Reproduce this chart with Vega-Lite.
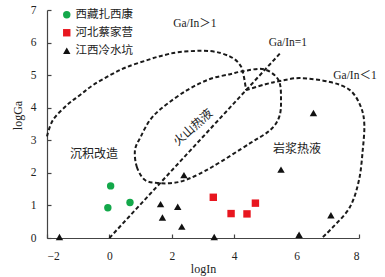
{
  "$schema": "https://vega.github.io/schema/vega-lite/v6.json",
  "autosize": {"type": "none"},
  "width": 312,
  "height": 228,
  "padding": {"left": 47, "top": 10, "right": 26, "bottom": 39},
  "background": "white",
  "config": {
    "view": {"stroke": null},
    "axis": {
      "grid": false,
      "domainColor": "#444",
      "domainWidth": 1.2,
      "tickColor": "#444",
      "tickWidth": 1.2,
      "tickSize": -4,
      "labelFont": "Liberation Serif",
      "labelFontSize": 11.5,
      "labelColor": "#222",
      "titleFont": "Liberation Serif",
      "titleFontSize": 12,
      "titleFontWeight": "normal",
      "titleColor": "#222"
    }
  },
  "datasets": {
    "points": [
      {"site": "西藏扎西康", "logIn": 0.04, "logGa": 1.6},
      {"site": "西藏扎西康", "logIn": -0.05, "logGa": 0.93},
      {"site": "西藏扎西康", "logIn": 0.66, "logGa": 1.09},
      {"site": "河北蔡家营", "logIn": 3.33, "logGa": 1.25},
      {"site": "河北蔡家营", "logIn": 3.9, "logGa": 0.75},
      {"site": "河北蔡家营", "logIn": 4.41, "logGa": 0.74},
      {"site": "河北蔡家营", "logIn": 4.68, "logGa": 1.07},
      {"site": "江西冷水坑", "logIn": -1.6, "logGa": 0.03},
      {"site": "江西冷水坑", "logIn": 1.64, "logGa": 1.04},
      {"site": "江西冷水坑", "logIn": 1.7, "logGa": 0.63},
      {"site": "江西冷水坑", "logIn": 2.19, "logGa": 0.96},
      {"site": "江西冷水坑", "logIn": 2.32, "logGa": 0.35},
      {"site": "江西冷水坑", "logIn": 2.39, "logGa": 1.93},
      {"site": "江西冷水坑", "logIn": 3.36, "logGa": 0.03},
      {"site": "江西冷水坑", "logIn": 5.5, "logGa": 2.1},
      {"site": "江西冷水坑", "logIn": 7.1, "logGa": 0.7},
      {"site": "江西冷水坑", "logIn": 6.08, "logGa": 0.1},
      {"site": "江西冷水坑", "logIn": 6.54, "logGa": 3.84}
    ],
    "curves": [
      {"curve": "A", "i": 1, "logIn": -2.0, "logGa": 3.12},
      {"curve": "A", "i": 2, "logIn": -1.81, "logGa": 3.62},
      {"curve": "A", "i": 3, "logIn": -1.36, "logGa": 4.08},
      {"curve": "A", "i": 4, "logIn": -0.94, "logGa": 4.39},
      {"curve": "A", "i": 5, "logIn": -0.53, "logGa": 4.69},
      {"curve": "A", "i": 6, "logIn": 0.02, "logGa": 5.0},
      {"curve": "A", "i": 7, "logIn": 0.56, "logGa": 5.25},
      {"curve": "A", "i": 8, "logIn": 1.21, "logGa": 5.46},
      {"curve": "A", "i": 9, "logIn": 1.62, "logGa": 5.58},
      {"curve": "A", "i": 10, "logIn": 2.26, "logGa": 5.71},
      {"curve": "A", "i": 11, "logIn": 3.22, "logGa": 5.74},
      {"curve": "A", "i": 12, "logIn": 3.87, "logGa": 5.57},
      {"curve": "A", "i": 13, "logIn": 4.19, "logGa": 5.31},
      {"curve": "A", "i": 14, "logIn": 4.3, "logGa": 5.0},
      {"curve": "A", "i": 15, "logIn": 4.38, "logGa": 4.54},
      {"curve": "B", "i": 1, "logIn": 0.0, "logGa": 0.0},
      {"curve": "B", "i": 2, "logIn": 5.5, "logGa": 5.7},
      {"curve": "C", "i": 1, "logIn": 4.38, "logGa": 4.54},
      {"curve": "C", "i": 2, "logIn": 5.0, "logGa": 4.72},
      {"curve": "C", "i": 3, "logIn": 5.47, "logGa": 4.82},
      {"curve": "C", "i": 4, "logIn": 6.11, "logGa": 4.91},
      {"curve": "C", "i": 5, "logIn": 7.07, "logGa": 4.79},
      {"curve": "C", "i": 6, "logIn": 7.71, "logGa": 4.54},
      {"curve": "C", "i": 7, "logIn": 8.05, "logGa": 4.05},
      {"curve": "C", "i": 8, "logIn": 8.17, "logGa": 3.5},
      {"curve": "C", "i": 9, "logIn": 8.12, "logGa": 2.7},
      {"curve": "C", "i": 10, "logIn": 8.0, "logGa": 1.78},
      {"curve": "C", "i": 11, "logIn": 7.71, "logGa": 0.95},
      {"curve": "C", "i": 12, "logIn": 7.17, "logGa": 0.34},
      {"curve": "C", "i": 13, "logIn": 6.81, "logGa": 0.0}
    ],
    "ellipse": [
      {"i": 1, "logIn": 0.82, "logGa": 2.7},
      {"i": 2, "logIn": 0.88, "logGa": 2.18},
      {"i": 3, "logIn": 1.14, "logGa": 1.78},
      {"i": 4, "logIn": 1.56, "logGa": 1.69},
      {"i": 5, "logIn": 2.04, "logGa": 1.69},
      {"i": 6, "logIn": 2.52, "logGa": 1.81},
      {"i": 7, "logIn": 3.29, "logGa": 2.18},
      {"i": 8, "logIn": 4.51, "logGa": 2.91},
      {"i": 9, "logIn": 5.15, "logGa": 3.31},
      {"i": 10, "logIn": 5.44, "logGa": 3.71},
      {"i": 11, "logIn": 5.5, "logGa": 4.23},
      {"i": 12, "logIn": 5.42, "logGa": 4.85},
      {"i": 13, "logIn": 4.95, "logGa": 5.18},
      {"i": 14, "logIn": 4.28, "logGa": 5.12},
      {"i": 15, "logIn": 3.87, "logGa": 5.03},
      {"i": 16, "logIn": 3.22, "logGa": 4.88},
      {"i": 17, "logIn": 2.49, "logGa": 4.54},
      {"i": 18, "logIn": 1.72, "logGa": 4.02},
      {"i": 19, "logIn": 1.3, "logGa": 3.62},
      {"i": 20, "logIn": 1.0, "logGa": 3.1}
    ],
    "labels": [
      {"text": "Ga/In＞1", "logIn": 2.74, "logGa": 6.56, "kind": "en"},
      {"text": "Ga/In=1", "logIn": 5.72, "logGa": 5.98, "kind": "en"},
      {"text": "Ga/In＜1", "logIn": 7.87, "logGa": 4.97, "kind": "en"},
      {"text": "沉积改造", "logIn": -0.49, "logGa": 2.58, "kind": "zh"},
      {"text": "岩浆热液", "logIn": 6.01, "logGa": 2.73, "kind": "zh"},
      {"text": "火山热液", "logIn": 2.68, "logGa": 3.4, "kind": "rot"}
    ]
  },
  "encoding": {
    "x": {"field": "logIn", "type": "quantitative",
      "scale": {"domain": [-2, 8], "nice": false, "zero": false},
      "axis": {"values": [-2, 0, 2, 4, 6, 8], "title": "logIn", "labelPadding": 16, "titlePadding": 2}},
    "y": {"field": "logGa", "type": "quantitative",
      "scale": {"domain": [0, 7], "nice": false, "zero": false},
      "axis": {"values": [0, 1, 2, 3, 4, 5, 6, 7], "title": "logGa", "labelPadding": 15, "titlePadding": 6, "titleY": 105}}
  },
  "layer": [
    {
      "data": {"name": "curves"},
      "mark": {"type": "line", "interpolate": "cardinal", "stroke": "#1a1a1a", "strokeWidth": 2, "strokeDash": [4, 2.5], "clip": false},
      "encoding": {"detail": {"field": "curve"}, "order": {"field": "i", "type": "quantitative"}}
    },
    {
      "data": {"name": "ellipse"},
      "mark": {"type": "line", "interpolate": "cardinal-closed", "stroke": "#1a1a1a", "strokeWidth": 2, "strokeDash": [4, 2.5]},
      "encoding": {"order": {"field": "i", "type": "quantitative"}}
    },
    {
      "data": {"name": "points"},
      "mark": {"type": "point", "filled": true, "size": 55, "opacity": 1},
      "encoding": {
        "shape": {"field": "site", "type": "nominal",
          "scale": {"domain": ["西藏扎西康", "河北蔡家营", "江西冷水坑"], "range": ["circle", "square", "triangle-up"]},
          "legend": {"title": null, "orient": "none", "legendX": 14, "legendY": -1, "padding": 0,
            "labelFont": "Noto Sans CJK SC", "labelFontSize": 11.5, "labelColor": "#222", "labelOffset": 3,
            "rowPadding": 5, "symbolSize": 55}},
        "color": {"field": "site", "type": "nominal",
          "scale": {"domain": ["西藏扎西康", "河北蔡家营", "江西冷水坑"], "range": ["#13a84a", "#e8161f", "#111111"]}}
      }
    },
    {
      "data": {"name": "labels"},
      "transform": [{"filter": "datum.kind === 'en'"}],
      "mark": {"type": "text", "font": "Liberation Serif, Noto Sans CJK SC", "fontSize": 11.5, "fill": "#222"},
      "encoding": {"text": {"field": "text"}}
    },
    {
      "data": {"name": "labels"},
      "transform": [{"filter": "datum.kind === 'zh'"}],
      "mark": {"type": "text", "font": "Noto Sans CJK SC", "fontSize": 12, "fill": "#222"},
      "encoding": {"text": {"field": "text"}}
    },
    {
      "data": {"name": "labels"},
      "transform": [{"filter": "datum.kind === 'rot'"}],
      "mark": {"type": "text", "font": "Noto Sans CJK SC", "fontSize": 12, "fill": "#222", "angle": 318},
      "encoding": {"text": {"field": "text"}}
    }
  ]
}
